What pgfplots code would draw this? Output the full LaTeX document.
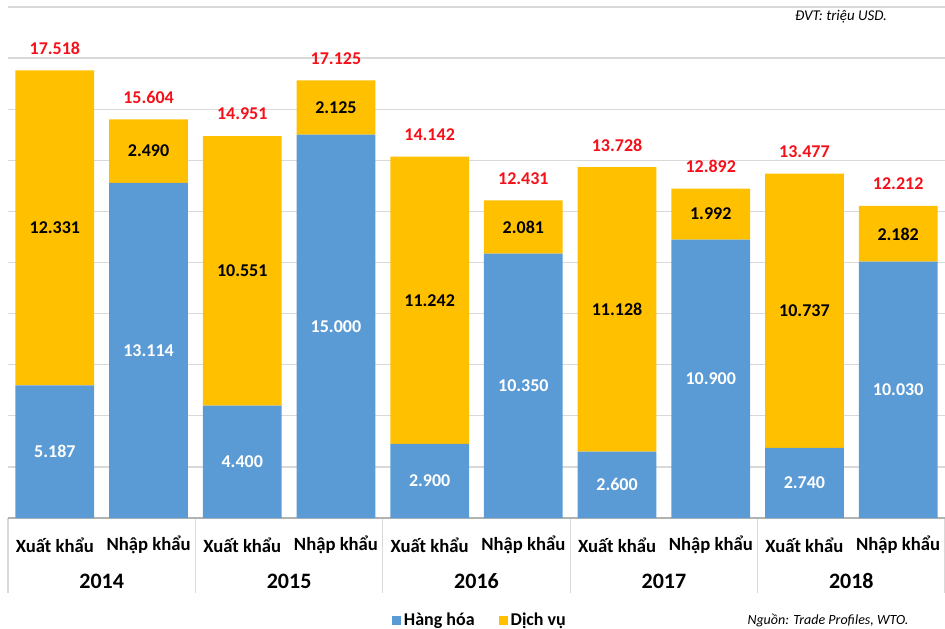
\documentclass[border=0pt]{standalone}
\usepackage{fontspec}
\setmainfont{Carlito}
\usepackage{pgfplots}
\pgfplotsset{compat=1.18}
\definecolor{cblue}{HTML}{5B9BD5}
\definecolor{cyellow}{HTML}{FFC000}
\definecolor{cred}{HTML}{F5101A}
\definecolor{cgrid}{HTML}{D9D9D9}
\begin{document}
\begin{tikzpicture}
\path[use as bounding box] (-6pt,-82.5pt) rectangle (702.75pt,388.5pt);
\begin{axis}[
  scale only axis, width=702.75pt, height=383.25pt,
  xmin=-0.5, xmax=9.5, ymin=0, ymax=20000,
  ybar stacked, bar width=0.84,
  axis line style={draw=none},
  xtick=\empty,
  ytick={0,2000,...,20000}, yticklabels={},
  major tick length=0pt,
  ymajorgrids, grid style={cgrid, line width=0.9pt},
  clip=false,
  legend style={draw=none, fill=none, legend columns=2,
    at={(axis description cs:0.504,-0.2)}, anchor=center,
    font=\bfseries\fontsize{13.5}{15}\selectfont,
    /tikz/every even column/.append style={column sep=16pt}},
  legend image code/.code={\fill[#1] (0pt,-3.5pt) rectangle (7pt,3.5pt);},
]
\addplot[fill=cblue, draw=none] coordinates {
 (0,5187) (1,13114) (2,4400) (3,15000) (4,2900)
 (5,10350) (6,2600) (7,10900) (8,2740) (9,10030)};
\addplot[fill=cyellow, draw=none] coordinates {
 (0,12331) (1,2490) (2,10551) (3,2125) (4,11242)
 (5,2081) (6,11128) (7,1992) (8,10737) (9,2182)};
\legend{Hàng hóa, Dịch vụ}

% x axis line and group separators
\draw[gray!60, line width=0.8pt] (axis cs:-0.5,0) -- (axis cs:9.5,0);
\draw[cgrid, line width=0.8pt] (axis cs:-0.5,0) -- ([yshift=-56.25pt]axis cs:-0.5,0);
\draw[cgrid, line width=0.8pt] (axis cs:1.5,0) -- ([yshift=-56.25pt]axis cs:1.5,0);
\draw[cgrid, line width=0.8pt] (axis cs:3.5,0) -- ([yshift=-56.25pt]axis cs:3.5,0);
\draw[cgrid, line width=0.8pt] (axis cs:5.5,0) -- ([yshift=-56.25pt]axis cs:5.5,0);
\draw[cgrid, line width=0.8pt] (axis cs:7.5,0) -- ([yshift=-56.25pt]axis cs:7.5,0);
\draw[cgrid, line width=0.8pt] (axis cs:9.5,0) -- ([yshift=-56.25pt]axis cs:9.5,0);

% anchor points for labels inside bars (segment midpoints)
\coordinate (b0) at (axis cs:0,2593.5);
\coordinate (b1) at (axis cs:1,6557);
\coordinate (b2) at (axis cs:2,2200);
\coordinate (b3) at (axis cs:3,7500);
\coordinate (b4) at (axis cs:4,1450);
\coordinate (b5) at (axis cs:5,5175);
\coordinate (b6) at (axis cs:6,1300);
\coordinate (b7) at (axis cs:7,5450);
\coordinate (b8) at (axis cs:8,1370);
\coordinate (b9) at (axis cs:9,5015);
\coordinate (s0) at (axis cs:0,11352.5);
\coordinate (s1) at (axis cs:1,14359);
\coordinate (s2) at (axis cs:2,9675.5);
\coordinate (s3) at (axis cs:3,16062.5);
\coordinate (s4) at (axis cs:4,8521);
\coordinate (s5) at (axis cs:5,11390.5);
\coordinate (s6) at (axis cs:6,8164);
\coordinate (s7) at (axis cs:7,11896);
\coordinate (s8) at (axis cs:8,8108.5);
\coordinate (s9) at (axis cs:9,11121);

\node[text=cred, font=\bfseries\fontsize{13.5}{15}\selectfont, yshift=16.5pt] at (axis cs:0,17518) {17.518};
\node[text=cred, font=\bfseries\fontsize{13.5}{15}\selectfont, yshift=16.5pt] at (axis cs:1,15604) {15.604};
\node[text=cred, font=\bfseries\fontsize{13.5}{15}\selectfont, yshift=16.5pt] at (axis cs:2,14951) {14.951};
\node[text=cred, font=\bfseries\fontsize{13.5}{15}\selectfont, yshift=16.5pt] at (axis cs:3,17125) {17.125};
\node[text=cred, font=\bfseries\fontsize{13.5}{15}\selectfont, yshift=16.5pt] at (axis cs:4,14142) {14.142};
\node[text=cred, font=\bfseries\fontsize{13.5}{15}\selectfont, yshift=16.5pt] at (axis cs:5,12431) {12.431};
\node[text=cred, font=\bfseries\fontsize{13.5}{15}\selectfont, yshift=16.5pt] at (axis cs:6,13728) {13.728};
\node[text=cred, font=\bfseries\fontsize{13.5}{15}\selectfont, yshift=16.5pt] at (axis cs:7,12892) {12.892};
\node[text=cred, font=\bfseries\fontsize{13.5}{15}\selectfont, yshift=16.5pt] at (axis cs:8,13477) {13.477};
\node[text=cred, font=\bfseries\fontsize{13.5}{15}\selectfont, yshift=16.5pt] at (axis cs:9,12212) {12.212};

% category labels
\node[font=\bfseries\fontsize{14}{16}\selectfont, yshift=-20.25pt] at (axis cs:0,0) {Xuất khẩu};
\node[font=\bfseries\fontsize{14}{16}\selectfont, yshift=-20.25pt] at (axis cs:1,0) {Nhập khẩu};
\node[font=\bfseries\fontsize{14}{16}\selectfont, yshift=-20.25pt] at (axis cs:2,0) {Xuất khẩu};
\node[font=\bfseries\fontsize{14}{16}\selectfont, yshift=-20.25pt] at (axis cs:3,0) {Nhập khẩu};
\node[font=\bfseries\fontsize{14}{16}\selectfont, yshift=-20.25pt] at (axis cs:4,0) {Xuất khẩu};
\node[font=\bfseries\fontsize{14}{16}\selectfont, yshift=-20.25pt] at (axis cs:5,0) {Nhập khẩu};
\node[font=\bfseries\fontsize{14}{16}\selectfont, yshift=-20.25pt] at (axis cs:6,0) {Xuất khẩu};
\node[font=\bfseries\fontsize{14}{16}\selectfont, yshift=-20.25pt] at (axis cs:7,0) {Nhập khẩu};
\node[font=\bfseries\fontsize{14}{16}\selectfont, yshift=-20.25pt] at (axis cs:8,0) {Xuất khẩu};
\node[font=\bfseries\fontsize{14}{16}\selectfont, yshift=-20.25pt] at (axis cs:9,0) {Nhập khẩu};
\node[font=\bfseries\fontsize{16.5}{18}\selectfont, yshift=-47.25pt] at (axis cs:0.5,0) {2014};
\node[font=\bfseries\fontsize{16.5}{18}\selectfont, yshift=-47.25pt] at (axis cs:2.5,0) {2015};
\node[font=\bfseries\fontsize{16.5}{18}\selectfont, yshift=-47.25pt] at (axis cs:4.5,0) {2016};
\node[font=\bfseries\fontsize{16.5}{18}\selectfont, yshift=-47.25pt] at (axis cs:6.5,0) {2017};
\node[font=\bfseries\fontsize{16.5}{18}\selectfont, yshift=-47.25pt] at (axis cs:8.5,0) {2018};
\node[font=\itshape\fontsize{11.2}{12}\selectfont] at (axis cs:8.39,19609) {ĐVT: triệu USD.};
\end{axis}
\begin{scope}[every node/.style={font=\bfseries\fontsize{13.5}{15}\selectfont}]
\node[white] at (b0) {5.187};
\node[white] at (b1) {13.114};
\node[white] at (b2) {4.400};
\node[white] at (b3) {15.000};
\node[white] at (b4) {2.900};
\node[white] at (b5) {10.350};
\node[white] at (b6) {2.600};
\node[white] at (b7) {10.900};
\node[white] at (b8) {2.740};
\node[white] at (b9) {10.030};
\node[black] at (s0) {12.331};
\node[black] at (s1) {2.490};
\node[black] at (s2) {10.551};
\node[black] at (s3) {2.125};
\node[black] at (s4) {11.242};
\node[black] at (s5) {2.081};
\node[black] at (s6) {11.128};
\node[black] at (s7) {1.992};
\node[black] at (s8) {10.737};
\node[black] at (s9) {2.182};
\end{scope}
\node[font=\itshape\fontsize{10.5}{12}\selectfont] at (615pt,-76.5pt) {Nguồn: Trade Profiles, WTO.};
\end{tikzpicture}
\end{document}
